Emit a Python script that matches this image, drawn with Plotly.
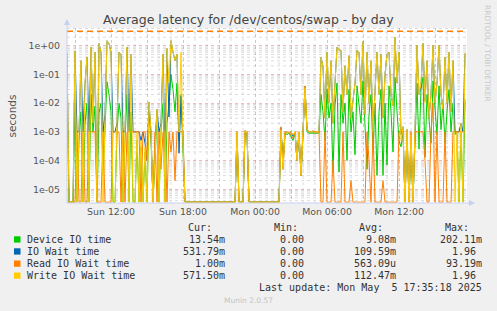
import plotly.graph_objects as go
import pandas as pd

# ---------------- data ----------------
START = "2025-05-04 08:20"
STEP_MIN = 10
X_START = "2025-05-04 08:20"
X_END = "2025-05-05 17:40"

DEVICE = [
    0.02, 0, 0, 0, 0.01, 0, 0.0005, 0.005, 0, 0.002,
    0.01, 0, 0.02, 0.001, 0.008, 0, 0.0045, 0.01, 0.00003, 0.001,
    0.056, 0.02, 0.005, 0, 0, 0.001, 0.01, 0.003, 0, 0.0005,
    0.02, 0, 0.005, 0, 0, 0.0005, 0, 0.0003, 0, 0.0002,
    0, 0.005, 0.0005, 0, 0.0001, 0.003, 0, 0.001, 0.01, 0,
    0.002, 0.01, 0.1, 0.03, 0.005, 0.05, 0.0005, 0.02, 0.0002, 0,
    0, 0, 0, 0, 0, 0, 0, 0, 0, 0,
    0, 0, 0, 0, 0, 0, 0, 0, 0, 0,
    0, 0, 0, 0, 0, 0.0008, 0, 0, 0, 0.0009,
    0.0008, 0, 0, 0, 0, 0, 0, 0, 0, 0,
    0, 0, 0, 0, 0, 0, 0, 0.0012, 0.0001, 0.0009,
    0.0008, 0.0009, 0.0007, 0.0005, 0.0009, 0.0001, 0.0009, 0.00003, 0.0009, 0.03,
    0.001, 0.0009, 0.0009, 0.0009, 0.0009, 0.0009, 0.0009, 0.02, 0.005, 0.0005,
    0.03, 0.003, 0.01, 0.00004, 0.008, 0.05, 0.00004, 0.02, 0.002, 0.01,
    0.0001, 0.03, 0.001, 0.005, 0.00016, 0.04, 0.01, 0.002, 0.06, 0.001,
    0.00005, 0.004, 0.02, 0.0002, 0.01, 0.00003, 0.005, 0.03, 0.00003, 0.01,
    0.00007, 0.04, 0.005, 0.0002, 0.08, 0.005, 0.0005, 0.0003, 0.001, 0,
    0.0008, 0, 0.0005, 0, 0.0008, 0.05, 0.00025, 0.03, 0.08, 0.00013,
    0.02, 0.002, 0.0004, 0.06, 0.005, 0.0008, 0.04, 0.0012, 0.01, 0.0004,
    0.005, 0.03, 0.001, 0.01, 0.0008, 0.001, 0, 0.001, 0, 0.01354,
]

IOWAIT = [
    0.55, 0, 0, 0, 0.65, 0.001, 0.001, 0.3, 0.001, 0.05,
    0.4, 0.001, 0.9, 0.002, 0.6, 0, 1.2, 0.6, 0.001, 0.004,
    1.5, 1.2, 0.6, 0.001, 0.001, 0.002, 0.6, 0.5, 0.001, 0.001,
    0.9, 0.001, 0.5, 0.001, 0.001, 0.001, 0.001, 0.0005, 0.001, 0.0004,
    0.0001, 0.011, 0.001, 0, 0.0004, 0.006, 0.001, 0.002, 0.5, 0.0002,
    0.8, 0.0033, 1.5, 0.6, 0.3, 0.5, 0.00018, 0.018, 0.0005, 0,
    0, 0, 0, 0, 0, 0, 0, 0, 0, 0,
    0, 0, 0, 0, 0, 0, 0, 0, 0, 0,
    0, 0, 0, 0, 0, 0.001, 0, 0, 0, 0.0011,
    0.001, 0, 0, 0, 0, 0, 0, 0, 0, 0,
    0, 0, 0, 0, 0, 0, 0, 0.0014, 0.00005, 0.001,
    0.001, 0.0009, 0.001, 0.0007, 0.001, 0.0001, 0.001, 0.00003, 0.001, 0.038,
    0.0012, 0.001, 0.001, 0.001, 0.0009, 0.001, 0.001, 0.4, 0.19, 0.003,
    0.6, 0.01, 0.3, 0.002, 0.05, 0.9, 0.7, 0.7, 0.005, 0.2,
    0.02, 0.45, 0.003, 0.01, 0.05, 0.7, 0.6, 0.02, 1.4, 0.004,
    0.6, 0.01, 0.3, 0.001, 0.05, 0.6, 0.02, 0.5, 0.003, 0.1,
    0.5, 0.6, 0.02, 0.008, 1.96, 0.05, 0.6, 0.0008, 0.0015, 0,
    0.0012, 0, 0.0008, 0, 0.001, 1.05, 0.02, 0.037, 1.2, 0.012,
    0.3, 0.003, 0.02, 1.05, 0.01, 0.05, 1.05, 0.02, 0.006, 0.4,
    0.01, 0.6, 0.005, 0.3, 0.001, 0.001, 0.001, 0.002, 0.001, 0.53179,
]

READ = [
    0, 0, 0, 0, 0, 0.001, 0, 0, 0.001, 0,
    0, 0.001, 0.001, 0.001, 0.001, 0, 0, 0, 0.001, 0,
    0, 0, 0, 0.001, 0.001, 0.001, 0.001, 0, 0.001, 0,
    0.001, 0.001, 0.001, 0.001, 0.001, 0.001, 0.001, 0, 0.001, 0.001,
    0.0001, 0.001, 0.001, 0, 0.001, 0, 0.001, 0.00005, 0.001, 0.001,
    0, 0.001, 0.0002, 0.001, 0.00002, 0.001, 0.001, 0.001, 0.001, 0,
    0, 0, 0, 0, 0, 0, 0, 0, 0, 0,
    0, 0, 0, 0, 0, 0, 0, 0, 0, 0,
    0, 0, 0, 0, 0, 0.001, 0, 0, 0, 0.0011,
    0.001, 0, 0, 0, 0, 0, 0, 0, 0, 0,
    0, 0, 0, 0, 0, 0, 0, 0.0015, 0.00005, 0.001,
    0.0009, 0.001, 0.0008, 0.0006, 0.001, 0.0001, 0.001, 0.00003, 0.001, 0.04,
    0.0012, 0.001, 0.001, 0.0011, 0.001, 0.001, 0.001, 0, 0, 0.001,
    0, 0, 0, 0.0001, 0, 0, 0, 0, 0.001, 0,
    0, 0, 0.00002, 0, 0, 0, 0, 0, 0, 0,
    0.001, 0.0001, 0, 0.001, 0, 0, 0, 0, 0.00002, 0,
    0, 0, 0, 0, 0, 0, 0.001, 0.001, 0.001, 0,
    0.001, 0, 0.001, 0, 0.001, 0.001, 0.001, 0.001, 0.001, 0.0001,
    0, 0, 0.001, 0.01, 0, 0.001, 0, 0, 0, 0.001,
    0, 0, 0, 0.001, 0.001, 0.001, 0.001, 0.001, 0.001, 0.001,
]

WRITE = [
    0.55, 0, 0, 0, 0.65, 0, 0.001, 0.3, 0, 0.05,
    0.4, 0, 0.9, 0.002, 0.6, 0, 1.2, 0.6, 0, 0.004,
    1.5, 1.2, 0.6, 0, 0, 0.002, 0.6, 0.5, 0, 0.001,
    0.9, 0, 0.5, 0, 0, 0.001, 0, 0.0005, 0, 0.0003,
    0, 0.011, 0.001, 0, 0.0002, 0.006, 0, 0.002, 0.5, 0,
    0.8, 0.05, 1.5, 0.6, 0.3, 0.5, 0.001, 0.6, 0.0003, 0,
    0, 0, 0, 0, 0, 0, 0, 0, 0, 0,
    0, 0, 0, 0, 0, 0, 0, 0, 0, 0,
    0, 0, 0, 0, 0, 0.001, 0, 0, 0, 0.0011,
    0.001, 0, 0, 0, 0, 0, 0, 0, 0, 0,
    0, 0, 0, 0, 0, 0, 0, 0.0012, 0.00005, 0.001,
    0.001, 0.0009, 0.001, 0.0008, 0.001, 0.0001, 0.001, 0.00003, 0.001, 0.035,
    0.0012, 0.001, 0.001, 0.001, 0.0009, 0.001, 0.001, 0.4, 0.19, 0.003,
    0.6, 0.01, 0.3, 0.002, 0.05, 0.9, 0.7, 0.7, 0.005, 0.2,
    0.02, 0.45, 0.003, 0.01, 0.05, 0.7, 0.6, 0.02, 1.4, 0.004,
    0.6, 0.01, 0.3, 0.001, 0.05, 0.6, 0.02, 0.5, 0.003, 0.1,
    0.5, 0.6, 0.02, 0.008, 1.96, 0.05, 0.6, 0.0005, 0.0015, 0,
    0.0012, 0, 0.0008, 0, 0.001, 1.05, 0.02, 0.05, 1.2, 0.01,
    0.3, 0.003, 0.02, 1.05, 0.01, 0.05, 1.05, 0.02, 0.006, 0.4,
    0.01, 0.6, 0.005, 0.3, 0, 0.001, 0, 0.002, 0, 0.5715,
]

SERIES_NAMES = ["Device IO time", "IO Wait time", "Read IO Wait time", "Write IO Wait time"]
SERIES_COLORS = ["#00CC00", "#0066B3", "#FF8000", "#FFCC00"]
CUR = ["13.54m", "531.79m", "1.00m", "571.50m"]
MIN = ["0.00", "0.00", "0.00", "0.00"]
AVG = ["9.08m", "109.59m", "563.09u", "112.47m"]
MAX = ["202.11m", "1.96", "93.19m", "1.96"]
WARN_LEVEL = 3.2

Y_TICK_VALUES = [1e-5, 1e-4, 1e-3, 1e-2, 1e-1, 1.0]
Y_TICK_LABELS = ["1e-05", "1e-04", "1e-03", "1e-02", "1e-01", "1e+00"]
X_GRID_TIMES = ["2025-05-04 09:00", "2025-05-04 12:00", "2025-05-04 15:00",
                "2025-05-04 18:00", "2025-05-04 21:00", "2025-05-05 00:00",
                "2025-05-05 03:00", "2025-05-05 06:00", "2025-05-05 09:00",
                "2025-05-05 12:00", "2025-05-05 15:00"]
X_TICK_LABELS = ["", "Sun 12:00", "", "Sun 18:00", "", "Mon 00:00",
                 "", "Mon 06:00", "", "Mon 12:00", ""]

TITLE = "Average latency for /dev/centos/swap - by day"
Y_TITLE = "seconds"
LAST_UPDATE = "Last update: Mon May\u00a0\u00a05 17:35:18 2025"
SIDE_TEXT = "RRDTOOL / TOBI OETIKER"
FOOTER = "Munin 2.0.57"

# ---------------- layout geometry ----------------
W, H = 497, 311
L, R, T, B = 67, 467, 28, 203
Y_LOG_RANGE = [-5.48, 0.62]
FLOOR = 10 ** (Y_LOG_RANGE[0] + 0.03)


def px(x):
    return (x - L) / (R - L)


def py(y):
    return (B - y) / (B - T)


times = pd.date_range(START, periods=len(WRITE), freq=f"{STEP_MIN}min")

fig = go.Figure()
for name, color, vals in zip(SERIES_NAMES, SERIES_COLORS, [DEVICE, IOWAIT, READ, WRITE]):
    yv = [v if v > 0 else FLOOR for v in vals]
    fig.add_trace(go.Scatter(x=times, y=yv, mode="lines", name=name,
                             line=dict(color=color, width=1), showlegend=False,
                             hoverinfo="skip"))

GRID_MINOR = "#dcdcdc"
GRID_MAJOR = "rgba(230,120,120,0.5)"

shapes = []
# minor horizontal log grid
for k in range(-6, 1):
    for m in range(2, 10):
        v = m * 10 ** k
        if 10 ** Y_LOG_RANGE[0] < v < 10 ** Y_LOG_RANGE[1]:
            shapes.append(dict(type="line", xref="paper", yref="y", x0=0, x1=1, y0=v, y1=v,
                               layer="below", line=dict(color=GRID_MINOR, width=1, dash="dot")))
# minor vertical grid: every hour
for t in pd.date_range("2025-05-04 09:00", "2025-05-05 17:00", freq="1h"):
    if t.hour % 3 != 0:
        shapes.append(dict(type="line", xref="x", yref="paper", x0=t, x1=t, y0=0, y1=1,
                           layer="below", line=dict(color=GRID_MINOR, width=1, dash="dot")))
# warning line
shapes.append(dict(type="line", xref="paper", yref="y", x0=0, x1=1, y0=WARN_LEVEL, y1=WARN_LEVEL,
                   line=dict(color="#FF8000", width=1.5, dash="6px,4px")))
# axis lines with arrows
axc = "#c8d0f0"
shapes.append(dict(type="line", xref="paper", yref="paper", x0=0, x1=0, y0=0, y1=py(21),
                   line=dict(color=axc, width=1)))
shapes.append(dict(type="line", xref="paper", yref="paper", x0=0, x1=px(471), y0=0, y1=0,
                   line=dict(color=axc, width=1)))
shapes.append(dict(type="path", xref="paper", yref="paper",
                   path=f"M {px(64)} {py(25)} L {px(70)} {py(25)} L {px(67)} {py(19)} Z",
                   fillcolor=axc, line=dict(width=0)))
shapes.append(dict(type="path", xref="paper", yref="paper",
                   path=f"M {px(469)} {py(200)} L {px(469)} {py(206)} L {px(475)} {py(203)} Z",
                   fillcolor=axc, line=dict(width=0)))

annotations = []


def ann(text, x, y, size, color, family="DejaVu Sans", xanchor="left", angle=0):
    annotations.append(dict(text=text, x=px(x), y=py(y), xref="paper", yref="paper",
                            showarrow=False, xanchor=xanchor, yanchor="middle",
                            textangle=angle, borderpad=0,
                            font=dict(size=size, color=color, family=family)))


ann(TITLE, 248.5, 20, 12.5, "#444444", xanchor="center")
ann(Y_TITLE, 11, 115.5, 10.5, "#555555", xanchor="center", angle=-90)
ann(SIDE_TEXT, 488, 53, 7.5, "#c8c8c8", xanchor="center", angle=90)
ann(FOOTER, 248, 300, 7.5, "#c4c4c4", xanchor="center")

MONO = "DejaVu Sans Mono"
CW = 6.02
ROW_Y = [239.3, 251.3, 263.5, 275.5]
HDR_Y = 227.7
HEADERS = ["Cur:", "Min:", "Avg:", "Max:"]
HDR_RIGHT = [213.3, 299.3, 384.3, 470.0]
COL_RIGHT = [225.7, 311.3, 396.7, 482.7]
for h, xr in zip(HEADERS, HDR_RIGHT):
    ann(h, xr, HDR_Y, 10, "#333333", family=MONO, xanchor="right")
for i, name in enumerate(SERIES_NAMES):
    yy = ROW_Y[i]
    shapes.append(dict(type="rect", xref="paper", yref="paper",
                       x0=px(14), x1=px(20.5), y0=py(yy - 3), y1=py(yy + 3.3),
                       fillcolor=SERIES_COLORS[i], line=dict(width=0)))
    ann(name, 26, yy, 10, "#333333", family=MONO)
    for col, xr in zip([CUR, MIN, AVG, MAX], COL_RIGHT):
        s = col[i]
        has_unit = s[-1].isalpha()
        ann(s, xr if has_unit else xr - CW, yy, 10, "#333333", family=MONO, xanchor="right")
ann(LAST_UPDATE, 482.7, 287.3, 10, "#333333", family=MONO, xanchor="right")

fig.update_layout(
    width=W, height=H,
    margin=dict(l=L, r=W - R, t=T, b=H - B, pad=0),
    paper_bgcolor="#F0F0F0", plot_bgcolor="#FFFFFF",
    font=dict(family="DejaVu Sans", size=9.4, color="#555555"),
    shapes=shapes, annotations=annotations, showlegend=False,
)
fig.update_xaxes(
    type="date", range=[X_START, X_END],
    tickmode="array", tickvals=X_GRID_TIMES, ticktext=X_TICK_LABELS,
    showgrid=True, gridcolor=GRID_MAJOR, griddash="dot", gridwidth=1,
    ticks="", showline=False, zeroline=False, ticklabelstandoff=2,
    tickfont=dict(size=9.4, color="#555555"),
)
fig.update_yaxes(
    type="log", range=Y_LOG_RANGE,
    tickmode="array", tickvals=Y_TICK_VALUES, ticktext=Y_TICK_LABELS,
    showgrid=True, gridcolor=GRID_MAJOR, griddash="dot", gridwidth=1,
    ticks="", showline=False, zeroline=False, ticklabelstandoff=6,
    tickfont=dict(size=9.4, color="#555555"),
)

fig.write_html("out.html")
